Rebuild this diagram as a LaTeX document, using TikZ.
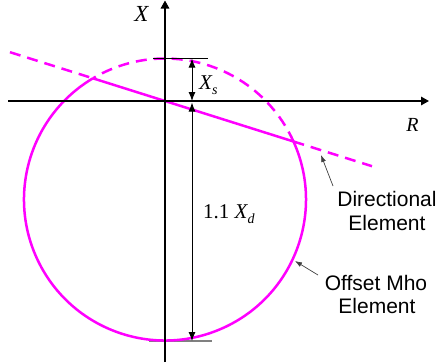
\documentclass[tikz,border=0pt]{standalone}
\usepackage{fontspec}
\setmainfont{Liberation Sans}
\newfontfamily\tnr{Liberation Serif}
\usetikzlibrary{arrows.meta}
\definecolor{mag}{RGB}{255,0,255}
\begin{document}
\begin{tikzpicture}[x=1pt,y=1pt,
  axis/.style={line width=1.5pt,-{Triangle[length=8pt,width=8.5pt]}},
  locus/.style={mag,line width=2.5pt},
  locusdash/.style={locus,dash pattern=on 11pt off 7pt},
  dimline/.style={line width=1pt,{Latex[length=9pt,width=7pt]}-{Latex[length=9pt,width=7pt]}},
  tick/.style={line width=1.1pt},
  pointer/.style={line width=0.7pt,black!75,-{Latex[length=7pt,width=5pt]}},
  lbl/.style={font=\fontsize{21}{23}\selectfont,inner sep=0pt,anchor=base},
  mth/.style={font=\tnr\itshape\fontsize{21}{23}\selectfont,inner sep=0pt}
]
\useasboundingbox (0,0) rectangle (439,-364);
% key points
\coordinate (O) at (165,-101);
\coordinate (C) at (165,-199.5);
\coordinate (P1) at (92.9,-78.3);
\coordinate (P2) at (293.5,-141.5);
\coordinate (Lend) at (10,-52.2);
\coordinate (Rend) at (372,-166.2);
\coordinate (axL) at (8,-101);
\coordinate (axR) at (429,-101);
\coordinate (axB) at (165,-362);
\coordinate (axT) at (165,-0.5);
\coordinate (topL) at (153,-58.5);
\coordinate (topR) at (208,-58.5);
\coordinate (botL) at (149,-341);
\coordinate (botR) at (212,-341);
\coordinate (dTop) at (192,-58.5);
\coordinate (dMid) at (192,-101);
\coordinate (dMidB) at (192,-102.5);
\coordinate (dBot) at (192,-341);
% bottom reference line
\draw[tick,black!50] (botL) -- (botR);
% offset mho circle
\draw[locus] (P2) arc[start angle=24.29,end angle=-239.25,radius=141];
\draw[locusdash] (P2) arc[start angle=24.29,end angle=120.75,radius=141];
% directional element
\draw[locusdash] (Lend) -- (P1);
\draw[locus] (P1) -- (P2);
\draw[locusdash] (P2) -- (Rend);
% axes
\draw[axis] (axL) -- (axR);
\draw[axis] (axB) -- (axT);
\draw[tick] (topL) -- (topR);
% dimensions
\draw[dimline] (dTop) -- (dMid);
\draw[dimline] (dMidB) -- (dBot);
% labels
\node[mth,font=\tnr\itshape\fontsize{23}{25}\selectfont] (lX) at (141.5,-13.5) {X};
\node[mth,font=\tnr\itshape\fontsize{20}{22}\selectfont] (lR) at (412.5,-124.5) {R};
\node[mth,anchor=base west] (lXs) at (199,-89) {X\raisebox{-5pt}{\fontsize{14}{14}\selectfont s}};
\node[mth,anchor=base west] (lXd) at (203,-218) {{\upshape 1.1} X\raisebox{-5pt}{\fontsize{14}{14}\selectfont d}};
\node[lbl] (dirA) at (387,-206) {Directional};
\node[lbl] (dirB) at (387,-230) {Element};
\node[lbl] (mhoA) at (376,-290) {Offset Mho};
\node[lbl] (mhoB) at (377,-313) {Element};
% pointers
\coordinate (dtail) at (333,-186);
\coordinate (dtip) at (321,-155);
\coordinate (mtail) at (318,-275);
\coordinate (mtip) at (295,-261);
\draw[pointer] (dtail) -- (dtip);
\draw[pointer] (mtail) -- (mtip);
\end{tikzpicture}
\end{document}
